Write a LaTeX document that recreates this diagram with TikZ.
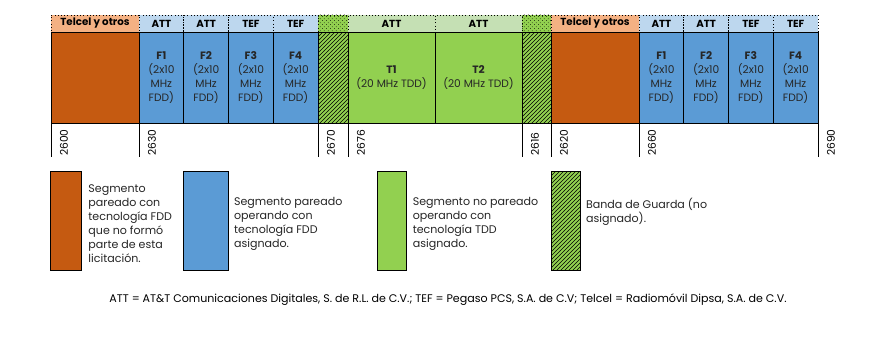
\documentclass[tikz,border=0pt]{standalone}
\usepackage{fontspec}
\setmainfont{Poppins}
\usepackage{tikz}
\usetikzlibrary{positioning,patterns}

\definecolor{segorange}{HTML}{C55A11}
\definecolor{hdrorange}{HTML}{F4B183}
\definecolor{segblue}{HTML}{5B9BD5}
\definecolor{hdrblue}{HTML}{BDD7EE}
\definecolor{seggreen}{HTML}{92D050}
\definecolor{hdrgreen}{HTML}{C5E0B4}

\begin{document}
\begin{tikzpicture}[x=0.75pt,y=-0.75pt,node distance=0pt,font=\fontsize{8.3}{10.5}\selectfont]
  \tikzstyle{hdr}=[draw=black,dotted,inner sep=0pt,outer sep=0pt,minimum height=12.75pt,
        font=\fontsize{7.7}{9}\selectfont\bfseries]
  \tikzstyle{seg}=[draw=black,inner sep=0pt,outer sep=0pt,minimum height=68.25pt,
        align=center,text=black!85,font=\fontsize{8}{10.5}\selectfont]
  \tikzstyle{guard}=[fill=seggreen,postaction={pattern=north east lines}]
  \tikzstyle{key}=[draw=black,anchor=north west,minimum height=74.25pt,inner sep=0pt]
  \tikzstyle{keytext}=[align=left,inner sep=0pt,text=black!85]
  \tikzstyle{freq}=[rotate=90,anchor=west,inner sep=0pt,font=\fontsize{8}{9}\selectfont]
  \useasboundingbox (0,0) rectangle (889,359);

  % main band
  \node [seg,fill=segorange,minimum width=66pt,anchor=north west] (tel1) at (51,32) {};
  \node [seg,fill=segblue,minimum width=33.5625pt,right=of tel1] (fa1) {\textbf{F1}\\(2x10\\MHz\\FDD)};
  \node [seg,fill=segblue,minimum width=33.5625pt,right=of fa1] (fa2) {\textbf{F2}\\(2x10\\MHz\\FDD)};
  \node [seg,fill=segblue,minimum width=33.5625pt,right=of fa2] (fa3) {\textbf{F3}\\(2x10\\MHz\\FDD)};
  \node [seg,fill=segblue,minimum width=33.5625pt,right=of fa3] (fa4) {\textbf{F4}\\(2x10\\MHz\\FDD)};
  \node [seg,guard,minimum width=22.5pt,right=of fa4] (g1) {};
  \node [seg,fill=seggreen,minimum width=65.25pt,right=of g1] (t1) {\textbf{T1}\\(20 MHz TDD)};
  \node [seg,fill=seggreen,minimum width=65.25pt,right=of t1] (t2) {\textbf{T2}\\(20 MHz TDD)};
  \node [seg,guard,minimum width=21.75pt,right=of t2] (g2) {};
  \node [seg,fill=segorange,minimum width=66pt,right=of g2] (tel2) {};
  \node [seg,fill=segblue,minimum width=33.5625pt,right=of tel2] (fb1) {\textbf{F1}\\(2x10\\MHz\\FDD)};
  \node [seg,fill=segblue,minimum width=33.5625pt,right=of fb1] (fb2) {\textbf{F2}\\(2x10\\MHz\\FDD)};
  \node [seg,fill=segblue,minimum width=33.5625pt,right=of fb2] (fb3) {\textbf{F3}\\(2x10\\MHz\\FDD)};
  \node [seg,fill=segblue,minimum width=33.5625pt,right=of fb3] (fb4) {\textbf{F4}\\(2x10\\MHz\\FDD)};

  % operators
  \node [hdr,fill=hdrorange,minimum width=66pt,above=of tel1] (htel1) {Telcel y otros};
  \node [hdr,fill=hdrblue,minimum width=33.5625pt,above=of fa1] (hfa1) {ATT};
  \node [hdr,fill=hdrblue,minimum width=33.5625pt,above=of fa2] (hfa2) {ATT};
  \node [hdr,fill=hdrblue,minimum width=33.5625pt,above=of fa3] (hfa3) {TEF};
  \node [hdr,fill=hdrblue,minimum width=33.5625pt,above=of fa4] (hfa4) {TEF};
  \node [hdr,guard,minimum width=22.5pt,above=of g1] (hg1) {};
  \node [hdr,fill=hdrgreen,minimum width=65.25pt,above=of t1] (ht1) {ATT};
  \node [hdr,fill=hdrgreen,minimum width=65.25pt,above=of t2] (ht2) {ATT};
  \node [hdr,guard,minimum width=21.75pt,above=of g2] (hg2) {};
  \node [hdr,fill=hdrorange,minimum width=66pt,above=of tel2] (htel2) {Telcel y otros};
  \node [hdr,fill=hdrblue,minimum width=33.5625pt,above=of fb1] (hfb1) {ATT};
  \node [hdr,fill=hdrblue,minimum width=33.5625pt,above=of fb2] (hfb2) {ATT};
  \node [hdr,fill=hdrblue,minimum width=33.5625pt,above=of fb3] (hfb3) {TEF};
  \node [hdr,fill=hdrblue,minimum width=33.5625pt,above=of fb4] (hfb4) {TEF};
  \draw (tel1.north west) rectangle (fb4.south east);

  % frequencies
  \draw (tel1.south west) -- ++(0,34);
  \draw (fa1.south west) -- ++(0,34);
  \draw (g1.south west) -- ++(0,34);
  \draw (t1.south west) -- ++(0,34);
  \draw (g2.south west) -- ++(0,34);
  \draw (tel2.south west) -- ++(0,34);
  \draw (fb1.south west) -- ++(0,34);
  \draw (fb4.south east) -- ++(0,34);
  \node [freq] (f2600) at ([shift={(13,33)}]tel1.south west) {2600};
  \node [freq] (f2630) at ([shift={(13,33)}]fa1.south west) {2630};
  \node [freq] (f2670) at ([shift={(13,33)}]g1.south west) {2670};
  \node [freq] (f2676) at ([shift={(13,33)}]t1.south west) {2676};
  \node [freq] (f2616) at ([shift={(13,33)}]g2.south west) {2616};
  \node [freq] (f2620) at ([shift={(13,33)}]tel2.south west) {2620};
  \node [freq] (f2660) at ([shift={(13,33)}]fb1.south west) {2660};
  \node [freq] (f2690) at ([shift={(13,33)}]fb4.south east) {2690};

  % legend
  \node [key,fill=segorange,minimum width=23.25pt] (kor) at (50,171) {};
  \node [keytext,right=5pt of kor,yshift=-2pt] (tor) {Segmento\\pareado con\\tecnología FDD\\que no formó\\parte de esta\\licitación.};
  \node [key,fill=segblue,minimum width=33.75pt] (kbl) at (183,171) {};
  \node [keytext,right=4pt of kbl,yshift=-2pt] (tbl) {Segmento pareado\\operando con\\tecnología FDD\\asignado.};
  \node [key,fill=seggreen,minimum width=21.75pt] (kgr) at (377,171) {};
  \node [keytext,right=4.5pt of kgr,yshift=-2pt] (tgr) {Segmento no pareado\\operando con\\tecnología TDD\\asignado.};
  \node [key,guard,minimum width=21.75pt] (kgd) at (551,171) {};
  \node [keytext,right=4pt of kgd,yshift=7pt] (tgd) {Banda de Guarda (no\\asignado).};

  \node [inner sep=0pt,font=\fontsize{8.3}{9}\selectfont] (note) at (448,300)
        {ATT = AT\&T Comunicaciones Digitales, S. de R.L. de C.V.; TEF = Pegaso PCS, S.A. de C.V; Telcel = Radiomóvil Dipsa, S.A. de C.V.};
\end{tikzpicture}
\end{document}
